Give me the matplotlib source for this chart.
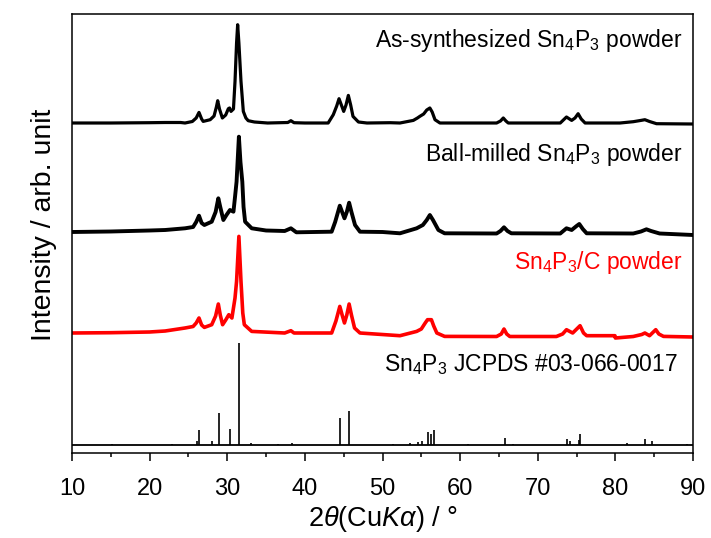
import matplotlib
matplotlib.use("Agg")
import matplotlib.pyplot as plt
from matplotlib.ticker import MultipleLocator

plt.rcParams['font.family'] = ['Liberation Sans', 'DejaVu Sans']
plt.rcParams['mathtext.fontset'] = 'custom'
plt.rcParams['mathtext.rm'] = 'Liberation Sans'
plt.rcParams['mathtext.it'] = 'Liberation Sans:italic'
plt.rcParams['mathtext.default'] = 'regular'

# ---- data (2theta in degrees, intensity in arbitrary units) ----
as_syn_2theta = [10, 15, 20, 22, 24.0, 24.56, 25.5, 26.0, 26.36, 26.7, 26.9, 27.8, 28.3, 28.6, 28.77,
                 29.0, 29.37, 29.8, 30.14, 30.3, 30.48, 30.8, 31.0, 31.2, 31.34, 31.5, 31.77, 32.07,
                 32.4, 32.7, 33.5, 35.2, 37.8, 38.2, 38.6, 40, 43.0, 43.66, 44.1, 44.4, 44.7, 45.0,
                 45.3, 45.6, 45.9, 46.2, 46.9, 48, 51, 52.25, 53.97, 54.5, 54.8, 55.3, 55.7, 56.1,
                 56.4, 56.76, 57.4, 60, 64.7, 65.2, 65.56, 65.9, 66.2, 72.9, 73.3, 73.7, 74.37, 74.8,
                 75.2, 75.6, 76.1, 80.6, 82.3, 83.3, 83.8, 84.4, 85.3, 90]
as_syn_int = [0, 0, 0.3, 0.5, 0.5, 0, 1.5, 5, 10.6, 4, 1.6, 3.3, 7, 16, 22.3,
              14, 5, 8, 14.3, 15, 11.6, 14, 41.6, 80, 98.3, 80, 41.6, 11.6,
              5, 2.3, 1, 0, 0.5, 2.3, 0.3, 0, 0, 8.3, 17, 24.3, 18, 11.6,
              18, 27.6, 18, 6.6, 1, 0, 0.3, 0, 2.6, 5, 6.6, 9, 13, 15,
              11, 3.3, 0, 0, 0, 2, 5, 2, 0, 0, 3, 6, 2.6, 5,
              9.3, 4, 0, 0, 1.3, 2.6, 3.3, 1.5, -0.7, -1]

milled_2theta = [10, 15, 20, 22, 24.56, 25.6, 26.0, 26.36, 26.7, 27.05, 28.0, 28.5, 28.85, 29.1,
                 29.5, 29.9, 30.35, 30.8, 31.0, 31.2, 31.5, 31.7, 31.94, 32.1, 32.3, 33.15, 35,
                 37.4, 38.2, 38.9, 43.45, 43.9, 44.5, 44.8, 45.1, 45.4, 45.7, 46.0, 46.46, 47.1,
                 50, 52.25, 54.4, 55.2, 55.7, 56.1, 56.5, 57.2, 58, 64.7, 65.2, 65.65, 66.1, 66.6,
                 72.9, 73.7, 74.37, 75.0, 75.35, 75.8, 76.3, 82.3, 83.3, 84.0, 84.6, 85.7, 90]
milled_int = [0, 0.5, 1.5, 2, 3.7, 5, 10, 16.3, 9, 7, 10.3, 20, 33.7, 25,
              12, 17, 22, 20.3, 35, 50.3, 95.3, 70, 50.3, 25, 10.3, 3.7, 1.5,
              1, 3.7, -0.3, 0.3, 10, 26.3, 20, 13.7, 20, 29.3, 20, 7, 0.3,
              0, -1.3, 3.7, 7, 12, 17, 12, 2, -1.3, -1.5, 1, 4.7, 1, -1.3,
              -1.5, 3.7, 2, 6, 8, 3, -1.3, -1.5, 0.5, 2.7, 1, -1.5, -3]

comp_2theta = [10, 15, 20, 22, 24.56, 25.6, 26.0, 26.36, 26.7, 27.05, 28.0, 28.5, 28.85, 29.1,
               29.4, 29.8, 30.2, 30.6, 31.0, 31.2, 31.5, 31.77, 32.0, 32.2, 33.15, 37.4, 38.2,
               38.6, 43.45, 44.0, 44.5, 44.8, 45.1, 45.4, 45.7, 46.0, 46.4, 47.1, 52.25, 54.4,
               55.0, 55.5, 55.8, 56.3, 56.6, 57.0, 58.0, 64.7, 65.3, 65.65, 66.0, 66.4, 72.4,
               73.2, 73.7, 74.5, 75.45, 75.9, 76.3, 79.95, 80.0, 82.3, 83.4, 83.8, 84.4, 85.2,
               85.6, 86.2, 90]
comp_int = [0, 0.3, 1, 2, 5, 6.5, 10, 15, 8, 5.6, 8.3, 17, 29, 18,
            8.3, 13, 18.3, 15, 35, 51.6, 96.6, 51.6, 20, 8.3, 1.6, 0, 2.3,
            0, 0, 12, 26.6, 18, 10, 18, 29, 18, 5, 0, -2.7, 1.6,
            4, 10, 13.3, 13.3, 7, 0, -3.4, -3.5, -1, 4, -1, -3.5, -3.5,
            -1, 3.3, 0, 7.3, 0, -2.7, -2.7, -5, -3.5, -1.5, 0, -2.7, 3.3,
            -1, -3.4, -4]

ref_2theta = [15.2, 22.9, 26.1, 26.35, 28.0, 28.9, 30.4, 31.5, 33.1, 36.5, 38.3, 44.5, 45.7,
              51.4, 53.6, 54.6, 55.1, 55.9, 56.3, 56.6, 61.0, 65.8, 66.8, 73.8, 74.2, 75.3,
              75.5, 81.5, 83.8, 84.7, 89.2]
ref_int = [1, 1, 4, 15, 4, 32, 16, 102, 2, 1, 2, 27, 34,
           1.5, 2, 3, 4, 13, 11, 15, 1, 7, 1, 6, 4, 5,
           11, 2, 6, 4, 1]

offsets = {'as': 330, 'milled': 221, 'comp': 120, 'ref': 8}

labels = ['As-synthesized Sn$_4$P$_3$ powder',
          'Ball-milled Sn$_4$P$_3$ powder',
          'Sn$_4$P$_3$/C powder',
          'Sn$_4$P$_3$ JCPDS #03-066-0017']

# ---- figure ----
fig = plt.figure(figsize=(7.11, 5.38), dpi=100)
ax = fig.add_axes([72/711, 1-453/538, (693-72)/711, (453-14)/538])

ax.plot(as_syn_2theta, [v + offsets['as'] for v in as_syn_int], color='black', lw=2.3,
        solid_joinstyle='round')
ax.plot(milled_2theta, [v + offsets['milled'] for v in milled_int], color='black', lw=2.8,
        solid_joinstyle='round')
ax.plot(comp_2theta, [v + offsets['comp'] for v in comp_int], color='#ff0000', lw=2.6,
        solid_joinstyle='round')
ax.vlines(ref_2theta, offsets['ref'], [offsets['ref'] + h for h in ref_int], color='black', lw=1.2)
ax.axhline(offsets['ref'], color='black', lw=1.3)

fs_txt = 16.5
ax.text(88.6, 413, labels[0], ha='right', va='center', fontsize=fs_txt, color='black')
ax.text(88.6, 298, labels[1], ha='right', va='center', fontsize=fs_txt, color='black')
ax.text(88.6, 191, labels[2], ha='right', va='center', fontsize=fs_txt, color='#ff0000')
ax.text(88.0, 88, labels[3], ha='right', va='center', fontsize=fs_txt, color='black')

ax.set_xlim(10, 90)
ax.set_ylim(0, 439)
ax.xaxis.set_major_locator(MultipleLocator(10))
ax.xaxis.set_minor_locator(MultipleLocator(5))
ax.tick_params(axis='x', which='major', direction='out', length=6, width=1.1, labelsize=17, pad=12)
ax.tick_params(axis='x', which='minor', direction='out', length=3, width=1.1)
ax.set_yticks([])
for s in ax.spines.values():
    s.set_linewidth(1.1)

ax.set_xlabel(r'2$\it{\theta}$(Cu$\it{K\alpha}$) / °', fontsize=19.5, labelpad=3)
ax.set_ylabel('Intensity / arb. unit', fontsize=20.5)
ax.yaxis.set_label_coords(-0.024, 0.52)

fig.savefig('out.png', dpi=100)
